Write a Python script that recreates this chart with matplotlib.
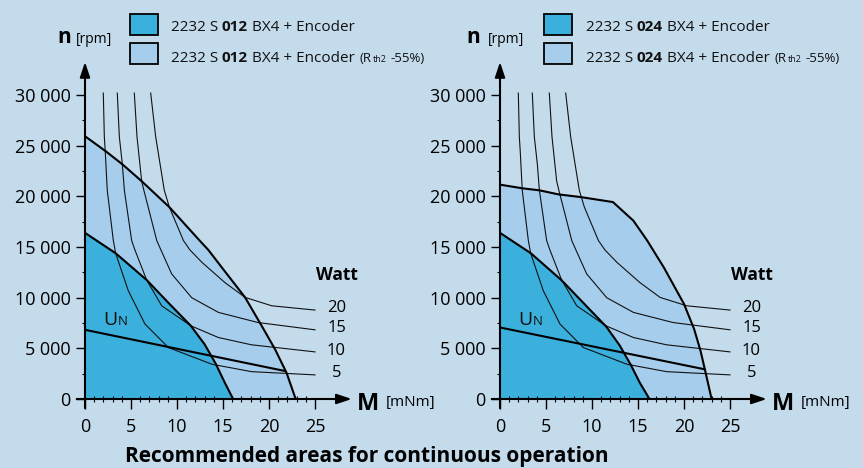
import matplotlib
matplotlib.use('Agg')
import matplotlib.pyplot as plt
import numpy as np

plt.rcParams['font.family'] = ['Open Sans', 'DejaVu Sans']

# ---------------- data (M in mNm, n in rpm) ----------------
# left chart: 2232 S 012 BX4
L_light_M = [0, 2.25, 4.06, 6.16, 9.17, 12.5, 13.4, 15.2, 17.4, 19.2, 20.65, 21.9, 22.9]
L_light_n = [25940, 24460, 23170, 21500, 18940, 15600, 14720, 12600, 10030, 7230, 4920, 2600, 0]
L_dark_M = [0, 3.33, 6.7, 9.06, 11.5, 13.0, 14.2, 15.2, 16.1]
L_dark_n = [16400, 14390, 11750, 9500, 7230, 5400, 3500, 1600, 0]
L_un_M = [0, 21.7]
L_un_n = [6830, 2770]

# right chart: 2232 S 024 BX4
R_light_M = [0, 2.43, 4.28, 6.35, 8.8, 12.28, 14.5, 16.0, 17.8, 20.0, 21.1, 21.8, 22.35, 23.0]
R_light_n = [21160, 20800, 20600, 20200, 19930, 19440, 17600, 15640, 13000, 9380, 6900, 4750, 2600, 0]
R_dark_M = [0, 3.35, 6.72, 9.1, 11.56, 13.0, 14.2, 15.2, 16.25]
R_dark_n = [16400, 14390, 11700, 9450, 7130, 5300, 3400, 1600, 0]
R_un_M = [0, 22.2]
R_un_n = [7060, 2940]

# constant power curves (Watt)
W5_M = [1.99, 2.1, 2.2, 2.42, 3.08, 3.33, 4.7, 6.52, 9.06, 13.8, 18.1, 25.0]
W5_n = [30200, 25900, 24460, 20600, 15640, 14390, 10700, 7400, 5080, 3430, 2700, 2380]
W10_M = [3.51, 3.73, 4.06, 4.28, 5.07, 5.43, 6.7, 8.34, 11.5, 14.5, 18.1, 25.0]
W10_n = [30200, 25900, 23170, 20600, 15640, 14700, 11750, 9200, 7230, 6070, 5350, 4650]
W15_M = [5.36, 5.65, 6.16, 6.4, 7.8, 8.26, 9.42, 11.6, 14.5, 18.8, 25.0]
W15_n = [30200, 25900, 21500, 20600, 15640, 14700, 12350, 10000, 8550, 7550, 6830]
W20_M = [7.14, 7.68, 8.62, 9.17, 10.7, 11.4, 12.7, 15.2, 17.4, 20.3, 25.0]
W20_n = [30200, 25900, 20600, 18940, 15640, 14720, 13500, 11500, 10030, 9200, 8780]
watt_labels = ['20', '15', '10', '5']

y_ticks = [0, 5000, 10000, 15000, 20000, 25000, 30000]
y_ticklabels = ['0', '5 000', '10 000', '15 000', '20 000', '25 000', '30 000']
x_ticks = [0, 5, 10, 15, 20, 25]
x_ticklabels = ['0', '5', '10', '15', '20', '25']

title = 'Recommended areas for continuous operation'
legend_models = ['012', '024']

# ---------------- style ----------------
BG = '#c4dbec'
DARK = '#3bb0dd'
LIGHT = '#a6cdeb'
W, H = 863, 468
PX_MNM = 9.2
PX_K = 10.13
Y0 = 399
XMAX = 29
YMAX = 33270

fig = plt.figure(figsize=(W / 100, H / 100), dpi=100)
fig.patch.set_facecolor(BG)
renderer = fig.canvas.get_renderer()


def fpos(x, y):
    return x / W, 1 - y / H


def rich_text(x, y, chunks):
    for s, size, weight, gap in chunks:
        x += gap
        t = fig.text(*fpos(x, y), s, fontsize=size, fontweight=weight,
                     ha='left', va='baseline', color='#111111')
        bb = t.get_window_extent(renderer)
        x += bb.width


def panel(x0px, light_M, light_n, dark_M, dark_n, un_M, un_n):
    ax = fig.add_axes([x0px / W, (H - Y0) / H, XMAX * PX_MNM / W,
                       (YMAX / 1000) * PX_K / H])
    ax.set_xlim(0, XMAX)
    ax.set_ylim(0, YMAX)
    ax.patch.set_alpha(0)
    for s in ax.spines.values():
        s.set_visible(False)
    ax.fill([0] + light_M, [0] + light_n, color=LIGHT, lw=0, zorder=1)
    ax.fill([0] + dark_M, [0] + dark_n, color=DARK, lw=0, zorder=1.5)
    for m, n in [(W5_M, W5_n), (W10_M, W10_n), (W15_M, W15_n), (W20_M, W20_n)]:
        ax.plot(m, n, color='#111111', lw=0.8, zorder=2, solid_joinstyle='round')
    ax.plot(light_M, light_n, color='black', lw=1.5, zorder=3)
    ax.plot(dark_M, dark_n, color='black', lw=1.5, zorder=3)
    ax.plot(un_M, un_n, color='black', lw=1.5, zorder=3)
    ap = dict(arrowstyle='-|>,head_length=0.9,head_width=0.3', lw=1.5,
              color='black', mutation_scale=10, shrinkA=0, shrinkB=0)
    ax.annotate('', xy=(XMAX, 0), xytext=(-0.9, 0), arrowprops=ap,
                annotation_clip=False, zorder=4)
    ax.annotate('', xy=(0, YMAX), xytext=(0, -900), arrowprops=ap,
                annotation_clip=False, zorder=4)
    ax.set_yticks(y_ticks)
    ax.set_yticklabels(y_ticklabels)
    ax.set_yticks([2500 + 5000 * i for i in range(6)], minor=True)
    ax.set_xticks(x_ticks)
    ax.set_xticklabels(x_ticklabels)
    ax.set_xticks([i for i in range(1, 25) if i % 5], minor=True)
    ax.tick_params(axis='y', which='major', direction='out', length=6.5,
                   width=1, pad=4, labelsize=13)
    ax.tick_params(axis='y', which='minor', direction='out', length=2.5, width=0.8)
    ax.tick_params(axis='x', which='major', direction='out', length=7,
                   width=1, pad=7, labelsize=13)
    ax.tick_params(axis='x', which='minor', direction='inout', length=4, width=0.8)
    return ax


panel(85, L_light_M, L_light_n, L_dark_M, L_dark_n, L_un_M, L_un_n)
panel(500, R_light_M, R_light_n, R_dark_M, R_dark_n, R_un_M, R_un_n)

for dx, nx, rpmx, model, boxx, textx in [(0, 57, 76, legend_models[0], 130, 170.7),
                                          (415, 466.7, 488, legend_models[1], 544.3, 585.7)]:
    # axis titles
    fig.text(*fpos(nx, 43), 'n', fontsize=15, fontweight='bold', ha='left', va='baseline')
    fig.text(*fpos(rpmx, 43), '[rpm]', fontsize=10, ha='left', va='baseline')
    fig.text(*fpos(356.7 + dx, 409.5), 'M', fontsize=17, fontweight='bold', ha='left', va='baseline')
    fig.text(*fpos(386 + dx, 406), '[mNm]', fontsize=11, ha='left', va='baseline')
    # watt labels
    fig.text(*fpos(336.5 + dx, 275), 'Watt', fontsize=12.5, fontweight='bold', ha='center', va='center')
    for lab, yy in zip(watt_labels, [307.5, 327.8, 350.8, 373]):
        fig.text(*fpos(336.5 + dx, yy), lab, fontsize=12, ha='center', va='center')
    # U_N
    rich_text(103 + dx, 325, [('U', 14, 'normal', 0), ('N', 9.5, 'normal', 1)])
    # legend boxes
    for (y0, y1, col) in [(14, 35, DARK), (43, 64, LIGHT)]:
        fig.patches.append(plt.Rectangle(fpos(boxx, y1), 27.5 / W, (y1 - y0) / H,
                                         transform=fig.transFigure, facecolor=col,
                                         edgecolor='black', lw=1.3))
    rich_text(textx, 31, [('2232 S', 11, 'normal', 0), (model, 11, 'bold', 4),
                          ('BX4 + Encoder', 11, 'normal', 4)])
    rich_text(textx, 62, [('2232 S', 11, 'normal', 0), (model, 11, 'bold', 4),
                          ('BX4 + Encoder', 11, 'normal', 4), ('(R', 9.5, 'normal', 5),
                          ('th2', 6.5, 'normal', 0.5), ('-55%)', 9.5, 'normal', 4)])

fig.text(*fpos(367, 462), title, fontsize=15, fontweight='bold', ha='center', va='baseline')

fig.savefig('out.png', dpi=100, facecolor=BG)
